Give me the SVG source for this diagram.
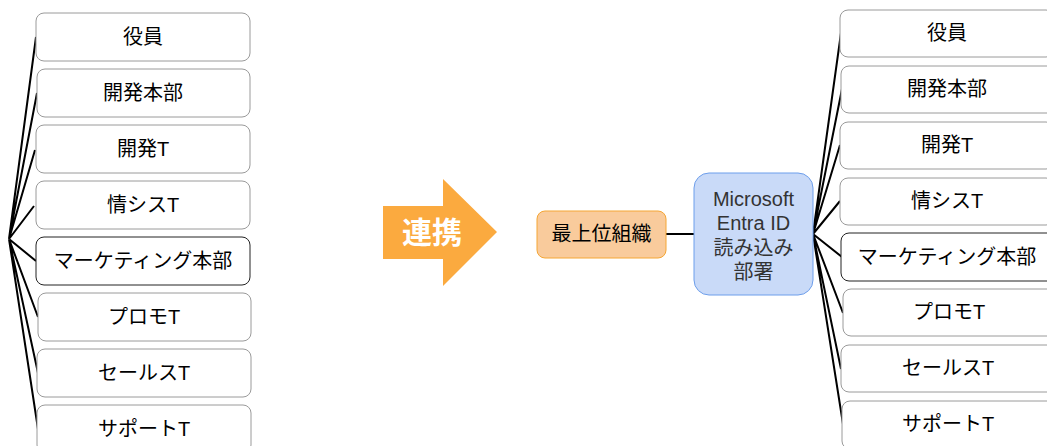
<svg xmlns="http://www.w3.org/2000/svg" width="1047" height="446" viewBox="0 0 1047 446">
<style>
.box{fill:#fff;stroke:#9a9a9a;stroke-width:1}
.dark{stroke:#222}
.t{font-family:"Liberation Sans","Noto Sans CJK JP",sans-serif;font-size:20px;fill:#000;text-anchor:middle}
.g{fill:#333}
.ln{stroke:#000;stroke-width:2;fill:none}
</style>
<rect width="1047" height="446" fill="#fff"/>
<g id="connectors">
<path class="ln" d="M9 239L36 37M9 239L37 93M9 239L35 150M9 239L34 206M9 239L36 261M9 239L38 317M9 239L38 373M9 239L38 429"/>
<path class="ln" d="M813 234L841 33M813 234L842 89M813 234L840 145M813 234L840 201M813 234L842 257M813 234L843 313M813 234L841 369M813 234L843 424"/>
<path class="ln" d="M666 234L694 234"/>
</g>
<g id="left">
<g id="l1"><rect class="box" x="36" y="13" width="214" height="48" rx="8"/><text class="t" x="143" y="44">役員</text></g>
<g id="l2"><rect class="box" x="37" y="69" width="213" height="48" rx="8"/><text class="t" x="143" y="100">開発本部</text></g>
<g id="l3"><rect class="box" x="36" y="125" width="214" height="48" rx="8"/><text class="t" x="143" y="156">開発T</text></g>
<g id="l4"><rect class="box" x="36" y="181" width="214" height="48" rx="8"/><text class="t" x="143" y="212">情シスT</text></g>
<g id="l5"><rect class="box dark" x="36" y="237" width="214" height="48" rx="8"/><text class="t" x="143" y="268">マーケティング本部</text></g>
<g id="l6"><rect class="box" x="38" y="293" width="213" height="48" rx="8"/><text class="t" x="144" y="324">プロモT</text></g>
<g id="l7"><rect class="box" x="37" y="349" width="214" height="48" rx="8"/><text class="t" x="144" y="380">セールスT</text></g>
<g id="l8"><rect class="box" x="37" y="405" width="214" height="48" rx="8"/><text class="t" x="144" y="436">サポートT</text></g>
</g>
<g id="arrow">
<polygon points="383,206 443,206 443,179 497,232 443,286 443,259 383,259" fill="#FBAA3F"/>
<text x="432" y="243" font-family="Noto Sans CJK JP, sans-serif" font-size="30" font-weight="bold" fill="#fff" text-anchor="middle">連携</text>
</g>
<g id="top-org">
<rect x="537" y="211" width="129" height="47" rx="8" fill="#F9CB9C" stroke="#F5A634" stroke-width="1"/>
<text class="t" x="601.5" y="241">最上位組織</text>
</g>
<g id="entra">
<rect x="694" y="173" width="119" height="122" rx="15" fill="#C9DAF8" stroke="#6D9EEB" stroke-width="1"/>
<text class="t g" x="753.5" y="206">Microsoft</text>
<text class="t g" x="753.5" y="230">Entra ID</text>
<text class="t g" x="753.5" y="255">読み込み</text>
<text class="t g" x="753.5" y="279">部署</text>
</g>
<g id="right">
<g id="r1"><rect class="box" x="840" y="10" width="214" height="47" rx="8"/><text class="t" x="947" y="40">役員</text></g>
<g id="r2"><rect class="box" x="841" y="66" width="214" height="47" rx="8"/><text class="t" x="947" y="96">開発本部</text></g>
<g id="r3"><rect class="box" x="840" y="122" width="214" height="47" rx="8"/><text class="t" x="947" y="152">開発T</text></g>
<g id="r4"><rect class="box" x="840" y="178" width="214" height="47" rx="8"/><text class="t" x="947" y="208">情シスT</text></g>
<g id="r5"><rect class="box dark" x="841" y="233" width="214" height="48" rx="8"/><text class="t" x="947" y="264">マーケティング本部</text></g>
<g id="r6"><rect class="box" x="843" y="289" width="214" height="47" rx="8"/><text class="t" x="949" y="319">プロモT</text></g>
<g id="r7"><rect class="box" x="841" y="345" width="214" height="47" rx="8"/><text class="t" x="948" y="375">セールスT</text></g>
<g id="r8"><rect class="box" x="842" y="401" width="214" height="48" rx="8"/><text class="t" x="948" y="431">サポートT</text></g>
</g>
</svg>
